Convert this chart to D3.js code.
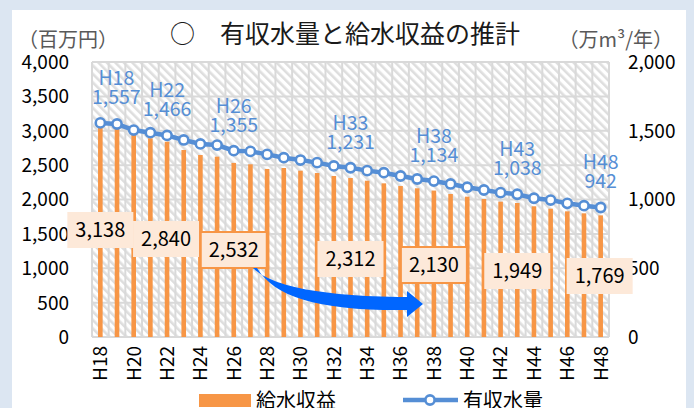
<!DOCTYPE html>
<html><head><meta charset="utf-8">
<script src="https://cdn.jsdelivr.net/npm/d3@7"></script>
<style>
body{margin:0;background:#dce6f2;}
svg{display:block;}
text{font-family:"Noto Sans CJK JP","Noto Sans",sans-serif;}
</style></head>
<body>
<svg id="chart" width="694" height="408"></svg>
<script>
const categories = ["H18","H19","H20","H21","H22","H23","H24","H25","H26","H27","H28","H29","H30","H31","H32","H33","H34","H35","H36","H37","H38","H39","H40","H41","H42","H43","H44","H45","H46","H47","H48"];
const revenue = [3138,3090,2963,2890,2840,2720,2647,2623,2532,2512,2444,2458,2419,2385,2342,2312,2273,2235,2196,2163,2130,2080,2041,2007,1968,1949,1901,1866,1828,1799,1769];
const volume = [1557,1549,1505,1486,1466,1433,1404,1396,1355,1350,1328,1304,1287,1268,1244,1231,1210,1195,1171,1149,1134,1113,1089,1069,1050,1038,1009,996,972,955,942];
const leftTicks = [0,500,1000,1500,2000,2500,3000,3500,4000];
const rightTicks = [0,500,1000,1500,2000];
const xTickLabels = categories.filter((d,i)=>i%2===0);
const labeledYears = ["H18","H22","H26","H33","H38","H43","H48"];
const boxedYears = ["H26","H38"];
const title = "○　有収水量と給水収益の推計";
const leftUnit = "（百万円）";
const rightUnit = "（万m³/年）";
const seriesNames = ["給水収益","有収水量"];

const svg = d3.select("#chart");
const M = {l:92, r:609, t:62, b:337};
const fmt = d3.format(",");

// chart area background
svg.append("rect").attr("x",12).attr("y",10).attr("width",674).attr("height",398).attr("fill","#ffffff");

const defs = svg.append("defs");
const pat = defs.append("pattern").attr("id","hatch").attr("patternUnits","userSpaceOnUse")
  .attr("width",6).attr("height",6).attr("patternTransform","rotate(-45)");
pat.append("rect").attr("width",6).attr("height",6).attr("fill","#ffffff");
pat.append("rect").attr("x",0).attr("width",2.6).attr("height",6).attr("fill","#dedede");

const x = d3.scaleBand().domain(categories).range([M.l,M.r]).padding(0);
const yL = d3.scaleLinear().domain([0,4000]).range([M.b,M.t]);
const yR = d3.scaleLinear().domain([0,2000]).range([M.b,M.t]);

svg.append("rect").attr("x",M.l).attr("y",M.t).attr("width",M.r-M.l).attr("height",M.b-M.t).attr("fill","url(#hatch)");

// grid
const grid = svg.append("g").attr("stroke","#d9d9d9").attr("stroke-width",2);
grid.selectAll(".hg").data(leftTicks).join("line")
  .attr("x1",M.l).attr("x2",M.r).attr("y1",d=>yL(d)).attr("y2",d=>yL(d));
const bounds = categories.map(c=>x(c)).concat([x(categories[categories.length-1])+x.bandwidth()]);
grid.selectAll(".vg").data(bounds).join("line")
  .attr("x1",d=>d).attr("x2",d=>d).attr("y1",M.t).attr("y2",M.b);

// bars
const bw = 4.6;
svg.append("g").selectAll("rect").data(categories).join("rect")
  .attr("x",(c)=>x(c)+x.bandwidth()/2-bw/2)
  .attr("y",(c,i)=>yL(revenue[i]))
  .attr("width",bw)
  .attr("height",(c,i)=>M.b-yL(revenue[i]))
  .attr("fill","#f79646");

// axes
const axL = d3.axisLeft(yL).tickValues(leftTicks).tickFormat(fmt).tickSize(0).tickPadding(0);
const gL = svg.append("g").attr("transform",`translate(69,0)`).call(axL);
gL.select(".domain").remove();
gL.selectAll("text").attr("font-size",19).attr("fill","#000").attr("dy","0.34em");

const axR = d3.axisRight(yR).tickValues(rightTicks).tickFormat(fmt).tickSize(0).tickPadding(0);
const gR = svg.append("g").attr("transform",`translate(628,0)`).call(axR);
gR.select(".domain").remove();
gR.selectAll("text").attr("font-size",19).attr("fill","#000").attr("dy","0.34em");

const axB = d3.axisBottom(x).tickValues(xTickLabels).tickSize(0).tickPadding(0);
const gB = svg.append("g").attr("transform",`translate(0,${M.b})`).call(axB);
gB.select(".domain").remove();
gB.selectAll("text").attr("font-size",19).attr("fill","#000")
  .attr("transform","rotate(-90)").attr("text-anchor","end")
  .attr("x",-9).attr("y",0).attr("dy","0.36em");

// line
const line = d3.line().x((d,i)=>x(categories[i])+x.bandwidth()/2).y(d=>yR(d));
svg.append("path").datum(volume).attr("d",line).attr("fill","none").attr("stroke","#558ed5").attr("stroke-width",4.5);
svg.append("g").selectAll("circle").data(volume).join("circle")
  .attr("cx",(d,i)=>x(categories[i])+x.bandwidth()/2).attr("cy",d=>yR(d)).attr("r",4.6)
  .attr("fill","#fff").attr("stroke","#558ed5").attr("stroke-width",2.6);

// line labels
const lineLab = svg.append("g").attr("fill","#558ed5").attr("font-size",19.5).attr("text-anchor","middle");
labeledYears.forEach(c=>{
  const i = categories.indexOf(c);
  let cx = x(c)+x.bandwidth()/2;
  if(i===0) cx += 16;
  const cy = yR(volume[i]);
  const g = lineLab.append("text");
  g.append("tspan").attr("x",cx).attr("y",cy-38).text(c);
  g.append("tspan").attr("x",cx).attr("y",cy-19).text(fmt(volume[i]));
});

// bar value boxes
const boxOffsets = {H18:[-33,212],H22:[-34,221],H26:[-33,232],H33:[-33,241],H38:[-33,247],H43:[-33,253],H48:[-34,258]};
const bl = svg.append("g");
labeledYears.forEach(c=>{
  const i = categories.indexOf(c);
  const cx = x(c)+x.bandwidth()/2;
  const [dx, top] = boxOffsets[c];
  const left = cx+dx;
  const g = bl.append("g");
  const boxed = boxedYears.includes(c);
  g.append("rect").attr("x",left).attr("y",top).attr("width",66).attr("height",36)
    .attr("fill","#fde9d9").attr("stroke",boxed?"#f79646":"none").attr("stroke-width",2);
  g.append("text").attr("x",left+33).attr("y",top+25).attr("text-anchor","middle")
    .attr("font-size",20).attr("fill","#000").text(fmt(revenue[i]));
});

// arrow
svg.append("path").attr("fill","#0066ff")
  .attr("d","M253,268 C270,284 310,296 407,297 L407,291 L423,304 L407,317 L407,310 C320,311 275,298 257,268 Z");

// title & units
svg.append("text").attr("x",345).attr("y",43).attr("text-anchor","middle").attr("font-size",25).attr("fill","#1a1a1a").text(title);
svg.append("text").attr("x",18).attr("y",47).attr("font-size",20).attr("fill","#595959").text(leftUnit);
svg.append("text").attr("x",673).attr("y",47).attr("text-anchor","end").attr("font-size",20).attr("fill","#595959").text(rightUnit);

// legend
const lg = svg.append("g");
lg.append("rect").attr("x",199).attr("y",394).attr("width",52).attr("height",13).attr("fill","#f79646");
lg.append("text").attr("x",256).attr("y",408).attr("font-size",20).attr("fill","#000").text(seriesNames[0]);
lg.append("line").attr("x1",403).attr("x2",458).attr("y1",400).attr("y2",400).attr("stroke","#558ed5").attr("stroke-width",4.5);
lg.append("circle").attr("cx",430).attr("cy",400).attr("r",4.6).attr("fill","#fff").attr("stroke","#558ed5").attr("stroke-width",2.6);
lg.append("text").attr("x",463).attr("y",408).attr("font-size",20).attr("fill","#000").text(seriesNames[1]);
</script>
</body></html>
